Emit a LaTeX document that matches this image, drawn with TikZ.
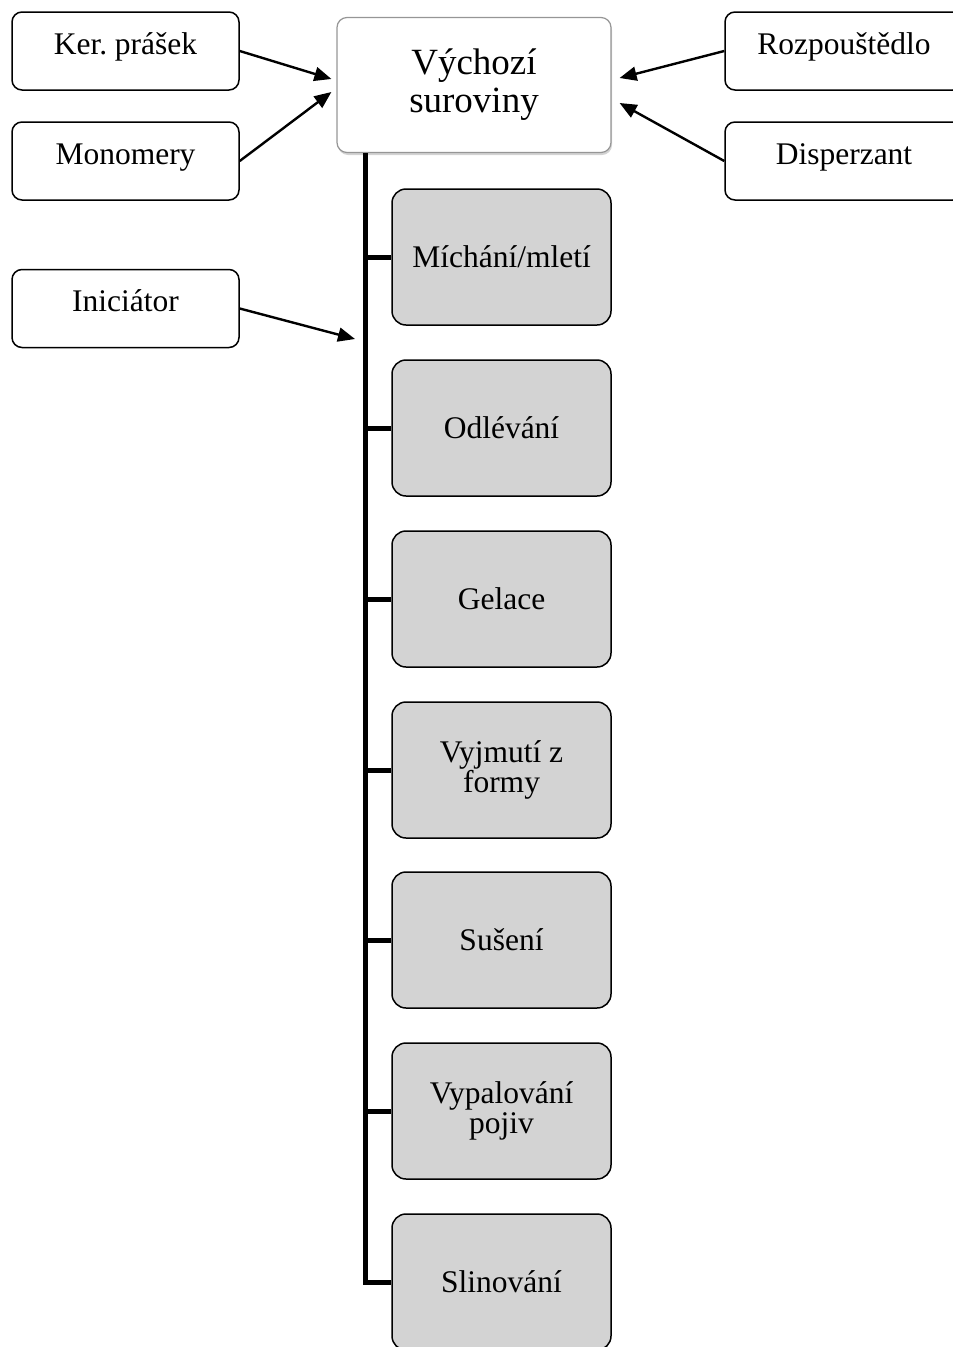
\documentclass[tikz,border=0pt]{standalone}
\usepackage{fontspec}
\setmainfont{Liberation Serif}
\usetikzlibrary{arrows.meta,shadows,calc}
\definecolor{stepgray}{RGB}{211,211,211}
\definecolor{topedge}{RGB}{150,150,150}
\frenchspacing

\begin{document}
\begin{tikzpicture}[x=1pt,y=-1pt,
  inputbox/.style={draw=black, line width=1.5pt, rounded corners=10pt, fill=white,
    minimum width=227pt, minimum height=78pt, inner sep=0pt,
    font=\fontsize{31.5}{34}\selectfont, text height=22pt, text depth=16pt},
  widebox/.style={inputbox, minimum width=238pt},
  stepbox/.style={draw=black, line width=1.5pt, rounded corners=14pt, fill=stepgray,
    minimum width=219pt, minimum height=136pt, inner sep=0pt, align=center,
    font=\fontsize{31.5}{30}\selectfont},
  topbox/.style={draw=topedge, line width=1.2pt, rounded corners=10pt, fill=white,
    minimum width=274pt, minimum height=135pt, inner sep=0pt, align=center,
    font=\fontsize{37}{38}\selectfont,
    drop shadow={shadow xshift=1pt, shadow yshift=-2.5pt, opacity=0.35}},
  spine/.style={line width=5pt},
  feed/.style={line width=2.4pt, -{Triangle[length=17pt,width=14pt]}}
]
\useasboundingbox (0,0) rectangle (953,1347);
\clip (0,0) rectangle (953,1347);

% raw material node and the inputs feeding it
\node[topbox] (top) at (474,85) {Výchozí\\suroviny};

\node[inputbox] (ker)  at (125.5,51)  {Ker. prášek};
\node[inputbox] (mono) at (125.5,161) {Monomery};
\node[inputbox] (ini)  at (125.5,308.5) {Iniciátor};
\node[widebox]  (rozp) at (844,51)  {Rozpouštědlo};
\node[widebox]  (disp) at (844,161) {Disperzant};

% process steps
\node[stepbox] (s1) at (501.5,257)  {Míchání/mletí};
\node[stepbox] (s2) at (501.5,428)  {Odlévání};
\node[stepbox] (s3) at (501.5,599)  {Gelace};
\node[stepbox] (s4) at (501.5,770)  {Vyjmutí z\\formy};
\node[stepbox] (s5) at (501.5,940)  {Sušení};
\node[stepbox] (s6) at (501.5,1111) {Vypalování\\pojiv};
\node[stepbox] (s7) at (501.5,1282) {Slinování};

% vertical spine with branches to each step
\coordinate (spinex) at (365,0);
\draw[spine] (top.south -| spinex) |- (s7.west);
\foreach \s in {s1,s2,s3,s4,s5,s6}
  \draw[spine] (\s.west -| spinex) -- (\s.west);

% input arrows
\coordinate (initip) at (355,339);
\draw[feed] (ker.east)  -- ($(top.west)+(-5,-6)$);
\draw[feed] (mono.east) -- ($(top.west)+(-5,7)$);
\draw[feed] (rozp.west) -- ($(top.east)+(8,-7)$);
\draw[feed] (disp.west) -- ($(top.east)+(8,18)$);
\draw[feed] (ini.east)  -- (initip);
\end{tikzpicture}
\end{document}
